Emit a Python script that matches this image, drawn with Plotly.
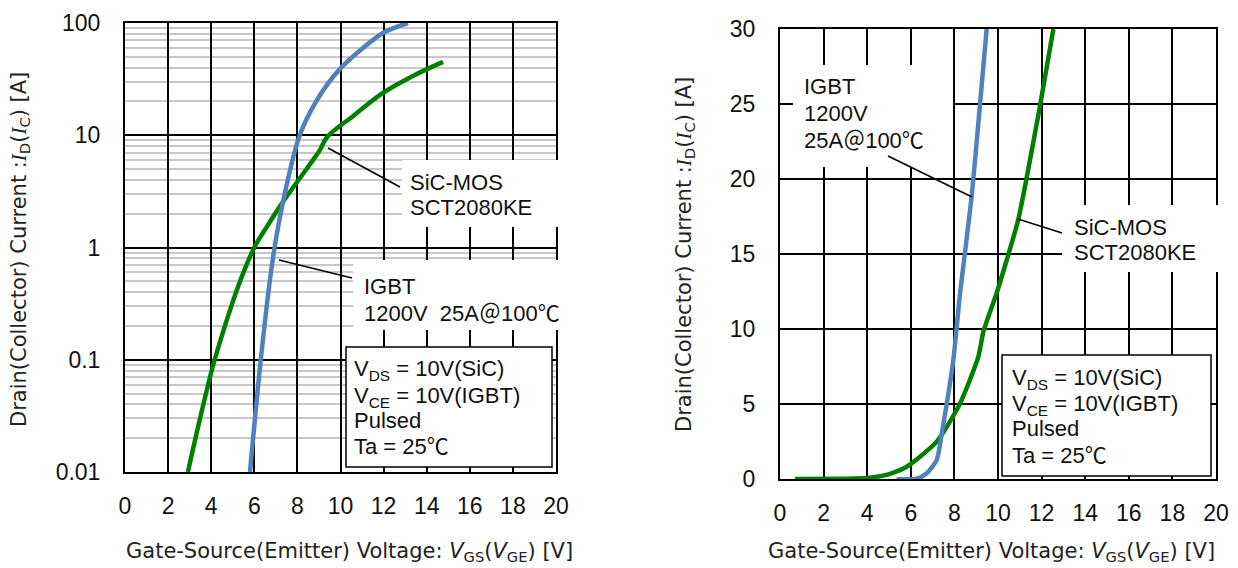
import plotly.graph_objects as go

# ---- data: left panel (log scale) ----
sic_v_log = [2.92, 3.5, 4.08, 4.6, 5.05, 5.5, 6.0, 6.6, 7.33, 8.12, 8.72, 9.05, 9.37, 10.58, 11.97, 13.36, 14.76]
sic_i_log = [0.01, 0.031, 0.088, 0.19, 0.35, 0.6, 1.0, 1.55, 2.55, 4.16, 6.0, 7.4, 9.6, 14.8, 23.8, 33.7, 45.0]

igbt_v_log = [5.80, 6.30, 6.85, 7.35, 8.09, 8.91, 9.98, 11.97, 13.13]
igbt_i_log = [0.01, 0.1, 0.77, 2.65, 9.8, 20.6, 39.0, 81.5, 100.0]

# ---- data: right panel (linear scale) ----
sic_v_lin = [0.69, 3.0, 4.0, 4.89, 5.81, 7.19, 8.26, 9.10, 9.33, 9.94, 10.4, 10.93, 11.93, 12.54]
sic_i_lin = [0.0, 0.02, 0.07, 0.27, 0.82, 2.49, 5.04, 8.16, 9.82, 12.4, 14.6, 17.3, 24.9, 30.0]

igbt_v_lin = [5.35, 6.27, 6.73, 7.19, 7.42, 7.95, 8.26, 8.79, 9.17, 9.48]
igbt_i_lin = [0.0, 0.02, 0.38, 1.27, 3.04, 7.93, 12.4, 18.8, 24.9, 30.0]

x_ticks = list(range(0, 21, 2))
log_ticks = [0.01, 0.1, 1, 10, 100]
log_tick_text = ["0.01", "0.1", "1", "10", "100"]
lin_ticks = [0, 5, 10, 15, 20, 25, 30]

GREEN = "#008000"
BLUE = "#4f81bd"
W, H = 1238, 568
TICK_FONT = dict(family="Liberation Sans, Arial", size=23, color="#111")
TITLE_FONT = dict(family="DejaVu Sans, Verdana", size=21, color="#222")
NOTE_FONT = dict(family="Liberation Sans, Arial, Noto Sans CJK JP", size=22, color="#111")


def px(x):
    return x / W


def py(y):
    return 1 - y / H


fig = go.Figure()

fig.add_trace(go.Scatter(x=sic_v_log, y=sic_i_log, mode="lines", xaxis="x", yaxis="y",
                         line=dict(color=GREEN, width=4.5, shape="spline", smoothing=1.0),
                         showlegend=False))
fig.add_trace(go.Scatter(x=igbt_v_log, y=igbt_i_log, mode="lines", xaxis="x", yaxis="y",
                         line=dict(color=BLUE, width=4.5, shape="spline", smoothing=0.8),
                         showlegend=False))
fig.add_trace(go.Scatter(x=sic_v_lin, y=sic_i_lin, mode="lines", xaxis="x2", yaxis="y2",
                         line=dict(color=GREEN, width=4.5, shape="spline", smoothing=0.6),
                         showlegend=False))
fig.add_trace(go.Scatter(x=igbt_v_lin, y=igbt_i_lin, mode="lines", xaxis="x2", yaxis="y2",
                         line=dict(color=BLUE, width=4.5, shape="spline", smoothing=0.6),
                         showlegend=False))

common_x = dict(range=[0, 20], tickvals=x_ticks, showgrid=True, gridcolor="black", gridwidth=1.5,
                showline=True, linecolor="black", linewidth=2, mirror=True, ticks="",
                tickfont=TICK_FONT, ticklabelstandoff=12, zeroline=False, automargin=False)

fig.update_layout(
    width=W, height=H, autosize=False,
    margin=dict(l=0, r=0, t=0, b=0, pad=0),
    paper_bgcolor="white", plot_bgcolor="white",
    xaxis=dict(domain=[px(125), px(556)], anchor="y", **common_x),
    yaxis=dict(domain=[py(472), py(23)], anchor="x", type="log", range=[-2, 2],
               tickvals=log_ticks, ticktext=log_tick_text,
               showgrid=True, gridcolor="black", gridwidth=1.5,
               minor=dict(showgrid=True, gridcolor="#c8c8c8", gridwidth=1.5, dtick="D1", ticks=""),
               showline=True, linecolor="black", linewidth=2, mirror=True, ticks="",
               tickfont=TICK_FONT, ticklabelstandoff=18, zeroline=False, automargin=False),
    xaxis2=dict(domain=[px(780), px(1216)], anchor="y2", **common_x),
    yaxis2=dict(domain=[py(479), py(29)], anchor="x2", range=[0, 30], tickvals=lin_ticks,
                showgrid=True, gridcolor="black", gridwidth=1.5,
                showline=True, linecolor="black", linewidth=2, mirror=True, ticks="",
                tickfont=TICK_FONT, ticklabelstandoff=18, zeroline=False, automargin=False),
)

shapes = []
# white label backgrounds (cover the grid behind the callout text)
for x0, y0, x1, y1 in [(402, 160, 560, 227), (353, 260, 560, 330),
                       (793, 65, 953, 167), (1062, 205, 1220, 272)]:
    shapes.append(dict(type="rect", xref="paper", yref="paper", layer="above",
                       x0=px(x0), x1=px(x1), y0=py(y1), y1=py(y0),
                       fillcolor="white", line=dict(width=0)))
# condition boxes
for x0, y0, x1, y1 in [(346, 347, 552, 467), (1002, 355, 1211, 476)]:
    shapes.append(dict(type="rect", xref="paper", yref="paper", layer="above",
                       x0=px(x0), x1=px(x1), y0=py(y1), y1=py(y0),
                       fillcolor="white", line=dict(color="black", width=1.5)))
# callout leader lines
for x0, y0, x1, y1 in [(328, 148, 400, 187), (279, 260, 352, 278),
                       (888, 156, 972, 197), (1018, 219, 1062, 233)]:
    shapes.append(dict(type="line", xref="paper", yref="paper", layer="above",
                       x0=px(x0), x1=px(x1), y0=py(y0), y1=py(y1),
                       line=dict(color="black", width=1.5)))
fig.update_layout(shapes=shapes)

cond_lines = ["V<sub>DS</sub> = 10V(SiC)", "V<sub>CE</sub> = 10V(IGBT)", "Pulsed", "Ta = 25℃"]
notes = [
    (408, [182, 208], ["SiC-MOS", "SCT2080KE"]),
    (362, [286, 313], ["IGBT", "1200V  25A＠100℃"]),
    (352, [368, 395, 420, 446], cond_lines),
    (802, [87, 113, 140], ["IGBT", "1200V", "25A＠100℃"]),
    (1072, [227, 252], ["SiC-MOS", "SCT2080KE"]),
    (1010, [377, 403, 428, 455], cond_lines),
]
annotations = []
for x, ys, texts in notes:
    for y, t in zip(ys, texts):
        # subscript lines get a taller box; nudge the anchor so the caps keep the line rhythm
        dy = 2 if "<sub>" in t else 0
        annotations.append(dict(x=px(x), y=py(y + dy), xref="paper", yref="paper",
                                text=t, showarrow=False, xanchor="left", yanchor="middle",
                                align="left", font=NOTE_FONT))

italic_i = '<span style="font-family:Liberation Serif"><i>I</i></span>'
y_title = f"Drain(Collector) Current :{italic_i}<sub>D</sub>({italic_i}<sub>C</sub>) [A]"
x_title = "Gate-Source(Emitter) Voltage: <i>V</i><sub>GS</sub>(<i>V</i><sub>GE</sub>) [V]"
for x, y in [(20, 250), (685, 255)]:
    annotations.append(dict(x=px(x), y=py(y), xref="paper", yref="paper", text=y_title,
                            showarrow=False, textangle=-90, xanchor="center", yanchor="middle",
                            font=TITLE_FONT))
for x, y in [(349, 552), (991, 552)]:
    annotations.append(dict(x=px(x), y=py(y), xref="paper", yref="paper", text=x_title,
                            showarrow=False, xanchor="center", yanchor="middle",
                            font=TITLE_FONT))
fig.update_layout(annotations=annotations)

fig.write_html("out.html")
